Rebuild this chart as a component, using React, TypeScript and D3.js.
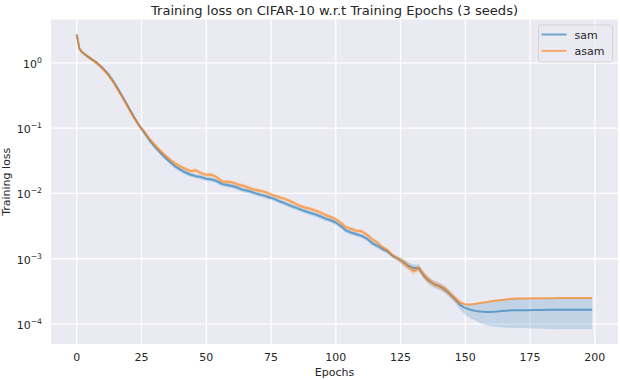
import React, { useRef, useEffect } from "react";
import * as d3 from "d3";

const epochs = [0, 1, ...d3.range(2, 200, 2), 199];

const samMean = [
  2.72, 1.66, 1.46, 1.27, 1.12, 0.98, 0.83, 0.684, 0.531, 0.394,
  0.288, 0.209, 0.151, 0.111, 0.0861, 0.0661, 0.0525, 0.0432, 0.0359, 0.0302,
  0.026, 0.0232, 0.0209, 0.0193, 0.0184, 0.0178, 0.0168, 0.0164, 0.0155, 0.014,
  0.0135, 0.013, 0.0123, 0.0114, 0.011, 0.0104, 0.00977, 0.00933, 0.00881, 0.00832,
  0.00767, 0.00716, 0.00661, 0.00617, 0.00575, 0.00537, 0.00507, 0.00479, 0.00447, 0.00412,
  0.00389, 0.00359, 0.00316, 0.00269, 0.00251, 0.00237, 0.00224, 0.00204, 0.00174, 0.00158,
  0.00141, 0.00129, 0.0011, 0.001, 0.000891, 0.000776, 0.000724, 0.000724, 0.00055, 0.000457,
  0.000407, 0.00038, 0.000339, 0.000288, 0.00024, 0.000195, 0.000176, 0.000166, 0.000158, 0.000155,
  0.000153, 0.000153, 0.000155, 0.000158, 0.00016, 0.000162, 0.000162, 0.000163, 0.000163, 0.000164,
  0.000164, 0.000164, 0.000165, 0.000165, 0.000165, 0.000165, 0.000166, 0.000166, 0.000166, 0.000166,
  0.000166, 0.000166,
];
const samLow = [
  2.7, 1.6, 1.4, 1.2, 1.05, 0.92, 0.77, 0.635, 0.49, 0.363,
  0.265, 0.192, 0.139, 0.102, 0.0792, 0.0608, 0.0483, 0.0397, 0.033, 0.0278,
  0.0239, 0.0213, 0.0192, 0.0178, 0.0169, 0.0164, 0.0155, 0.0151, 0.0143, 0.0129,
  0.0124, 0.012, 0.0113, 0.0105, 0.0101, 0.00957, 0.00899, 0.00858, 0.00811, 0.00765,
  0.00706, 0.00659, 0.00608, 0.00568, 0.00529, 0.00494, 0.00466, 0.00441, 0.00411, 0.00379,
  0.00358, 0.0033, 0.00291, 0.00247, 0.00231, 0.00218, 0.00206, 0.00188, 0.0016, 0.00145,
  0.0013, 0.00119, 0.00101, 0.00092, 0.000784, 0.000683, 0.000637, 0.000637, 0.000484, 0.000402,
  0.000358, 0.000334, 0.000298, 0.000253, 0.000211, 0.000165, 0.000138, 0.000123, 0.000112, 0.000102,
  0.0000955, 0.0000923, 0.0000902, 0.0000891, 0.0000881, 0.0000871, 0.0000871, 0.0000866, 0.0000861, 0.0000856,
  0.0000851, 0.0000846, 0.0000841, 0.0000836, 0.0000832, 0.0000832, 0.0000832, 0.0000832, 0.0000832, 0.0000832,
  0.0000832, 0.0000832,
];
const samHigh = [
  2.74, 1.72, 1.52, 1.34, 1.19, 1.04, 0.89, 0.735, 0.573, 0.425,
  0.311, 0.226, 0.163, 0.12, 0.093, 0.0714, 0.0567, 0.0467, 0.0388, 0.0326,
  0.0281, 0.0251, 0.0226, 0.0208, 0.0199, 0.0192, 0.0181, 0.0177, 0.0167, 0.0151,
  0.0146, 0.014, 0.0133, 0.0123, 0.0119, 0.0112, 0.0106, 0.0101, 0.00951, 0.00899,
  0.00828, 0.00773, 0.00714, 0.00666, 0.00621, 0.0058, 0.00548, 0.00517, 0.00483, 0.00445,
  0.0042, 0.00388, 0.00341, 0.00291, 0.00271, 0.00256, 0.00242, 0.0022, 0.00188, 0.00171,
  0.00152, 0.00139, 0.00119, 0.00108, 0.00101, 0.000877, 0.000818, 0.000818, 0.000622, 0.000516,
  0.00046, 0.000429, 0.000383, 0.000325, 0.000271, 0.000215, 0.000198, 0.000198, 0.000202, 0.000209,
  0.000214, 0.000222, 0.000227, 0.000232, 0.000238, 0.000241, 0.000243, 0.000244, 0.000245, 0.000246,
  0.000247, 0.000247, 0.000248, 0.000248, 0.000248, 0.000248, 0.000249, 0.000249, 0.000249, 0.000249,
  0.000249, 0.000249,
];

const asamMean = [
  2.72, 1.66, 1.46, 1.27, 1.11, 0.973, 0.822, 0.661, 0.513, 0.38,
  0.279, 0.202, 0.146, 0.11, 0.0891, 0.0692, 0.0562, 0.0462, 0.0389, 0.0331,
  0.0288, 0.026, 0.0237, 0.0219, 0.0226, 0.0204, 0.0193, 0.0193, 0.0178, 0.0153,
  0.0151, 0.0148, 0.0138, 0.0132, 0.0124, 0.0116, 0.0112, 0.0107, 0.01, 0.00933,
  0.00881, 0.00832, 0.00776, 0.00708, 0.00646, 0.0061, 0.00582, 0.0055, 0.00513, 0.00468,
  0.00437, 0.00403, 0.00355, 0.00302, 0.00285, 0.00269, 0.00263, 0.00234, 0.002, 0.00178,
  0.00151, 0.00135, 0.00112, 0.001, 0.000891, 0.000759, 0.000646, 0.000724, 0.000562, 0.000468,
  0.000407, 0.00038, 0.000347, 0.000295, 0.000245, 0.000214, 0.0002, 0.0002, 0.000204, 0.000211,
  0.000216, 0.000224, 0.000229, 0.000234, 0.00024, 0.000243, 0.000245, 0.000246, 0.000247, 0.000248,
  0.000248, 0.000249, 0.000249, 0.000249, 0.00025, 0.00025, 0.00025, 0.00025, 0.000251, 0.000251,
  0.000251, 0.000251,
];
const asamLow = [
  2.7, 1.61, 1.41, 1.21, 1.05, 0.915, 0.764, 0.615, 0.477, 0.353,
  0.259, 0.188, 0.136, 0.102, 0.0829, 0.0644, 0.0523, 0.043, 0.0362, 0.0308,
  0.0268, 0.0242, 0.022, 0.0204, 0.021, 0.019, 0.0179, 0.0179, 0.0166, 0.0142,
  0.014, 0.0138, 0.0128, 0.0123, 0.0115, 0.0108, 0.0104, 0.00995, 0.0093, 0.00868,
  0.00819, 0.00774, 0.00722, 0.00658, 0.00601, 0.00567, 0.00541, 0.00512, 0.00477, 0.00435,
  0.00406, 0.00375, 0.0033, 0.00281, 0.00265, 0.0025, 0.00245, 0.00218, 0.00186, 0.00166,
  0.0014, 0.00126, 0.00104, 0.00093, 0.000784, 0.000668, 0.000568, 0.000637, 0.000495, 0.000412,
  0.000358, 0.000334, 0.000305, 0.00026, 0.000216, 0.000197, 0.000194, 0.000194, 0.000198, 0.000205,
  0.00021, 0.000217, 0.000222, 0.000227, 0.000233, 0.000236, 0.000238, 0.000239, 0.00024, 0.000241,
  0.000241, 0.000242, 0.000242, 0.000242, 0.000243, 0.000243, 0.000243, 0.000243, 0.000244, 0.000244,
  0.000244, 0.000244,
];
const asamHigh = [
  2.74, 1.71, 1.51, 1.33, 1.17, 1.03, 0.88, 0.707, 0.549, 0.407,
  0.299, 0.216, 0.156, 0.118, 0.0953, 0.074, 0.0601, 0.0494, 0.0416, 0.0354,
  0.0308, 0.0278, 0.0254, 0.0234, 0.0242, 0.0218, 0.0207, 0.0207, 0.019, 0.0164,
  0.0162, 0.0158, 0.0148, 0.0141, 0.0133, 0.0124, 0.012, 0.0114, 0.0107, 0.00998,
  0.00943, 0.0089, 0.0083, 0.00758, 0.00691, 0.00653, 0.00623, 0.00589, 0.00549, 0.00501,
  0.00468, 0.00431, 0.0038, 0.00323, 0.00305, 0.00288, 0.00281, 0.0025, 0.00214, 0.0019,
  0.00162, 0.00144, 0.0012, 0.00107, 0.00101, 0.000858, 0.00073, 0.000818, 0.000635, 0.000529,
  0.00046, 0.000429, 0.000392, 0.000333, 0.000277, 0.000231, 0.000206, 0.000206, 0.00021, 0.000217,
  0.000222, 0.000231, 0.000236, 0.000241, 0.000247, 0.00025, 0.000252, 0.000253, 0.000254, 0.000255,
  0.000255, 0.000256, 0.000256, 0.000256, 0.000257, 0.000257, 0.000257, 0.000257, 0.000258, 0.000258,
  0.000258, 0.000258,
];

const seriesNames = ["sam", "asam"];
const seriesColors = ["#1f77b4", "#ff7f0e"];
const xTicks = [0, 25, 50, 75, 100, 125, 150, 175, 200];
const yTicks = [1, 1e-1, 1e-2, 1e-3, 1e-4];
const yTickExps = ["0", "\u22121", "\u22122", "\u22123", "\u22124"];

const W = 620;
const H = 380;
const FONT = "'DejaVu Sans', sans-serif";
const TEXT = "#262626";

function LossChart() {
  const svgRef = useRef(null);

  useEffect(() => {
    const svg = d3.select(svgRef.current);
    svg.selectAll("*").remove();

    const left = 51, right = 618, top = 19.5, bottom = 344;

    const n = Math.min(epochs.length, samMean.length, asamMean.length);
    const xMin = d3.min(epochs), xMax = d3.max(epochs.slice(0, n));
    const xPad = (xMax - xMin) * 0.05;
    const x = d3.scaleLinear().domain([xMin - xPad, xMax + xPad]).range([left, right]);

    const all = [samMean, samLow, samHigh, asamMean, asamLow, asamHigh].flat();
    const lo = Math.log10(d3.min(all));
    const hi = Math.log10(d3.max(all));
    const yPad = (hi - lo) * 0.05;
    const y = d3.scaleLog().domain([10 ** (lo - yPad), 10 ** (hi + yPad)]).range([bottom, top]);

    svg.append("defs").append("clipPath").attr("id", "plotClip")
      .append("rect").attr("x", left).attr("y", top)
      .attr("width", right - left).attr("height", bottom - top);

    svg.append("rect").attr("x", left).attr("y", top)
      .attr("width", right - left).attr("height", bottom - top)
      .attr("fill", "#eaeaf2");

    // grid
    const grid = svg.append("g").attr("stroke", "#fff").attr("stroke-width", 1.3);
    grid.selectAll(".gx").data(xTicks).join("line")
      .attr("x1", d => x(d)).attr("x2", d => x(d))
      .attr("y1", top).attr("y2", bottom);
    grid.selectAll(".gy").data(yTicks).join("line")
      .attr("x1", left).attr("x2", right)
      .attr("y1", d => y(d)).attr("y2", d => y(d));

    const series = [
      { name: seriesNames[0], color: seriesColors[0], mean: samMean, low: samLow, high: samHigh },
      { name: seriesNames[1], color: seriesColors[1], mean: asamMean, low: asamLow, high: asamHigh },
    ];

    const idx = d3.range(n);
    const content = svg.append("g").attr("clip-path", "url(#plotClip)");
    series.forEach(s => {
      const lineGen = d3.line<number>().x(i => x(epochs[i])).y(i => y(s.mean[i]));
      const areaGen = d3.area<number>()
        .x(i => x(epochs[i])).y0(i => y(s.low[i])).y1(i => y(s.high[i]));
      content.append("path").attr("d", lineGen(idx))
        .attr("fill", "none").attr("stroke", s.color)
        .attr("stroke-opacity", 0.6).attr("stroke-width", 2)
        .attr("stroke-linejoin", "round");
      content.append("path").attr("d", areaGen(idx))
        .attr("fill", s.color).attr("fill-opacity", 0.2);
    });

    // x ticks
    svg.append("g").selectAll("text").data(xTicks).join("text")
      .attr("x", d => x(d)).attr("y", 361)
      .attr("text-anchor", "middle")
      .attr("font-family", FONT).attr("font-size", 11).attr("fill", TEXT)
      .text(d => d3.format("d")(d));

    // y ticks with superscript exponents
    const yt = svg.append("g").selectAll("text").data(yTicks).join("text")
      .attr("x", 42).attr("y", d => y(d) + 5)
      .attr("text-anchor", "end")
      .attr("font-family", FONT).attr("font-size", 11).attr("fill", TEXT);
    yt.append("tspan").text("10");
    yt.append("tspan").attr("font-size", 7.7).attr("dy", -5)
      .text((d, i) => yTickExps[i]);

    // labels
    svg.append("text").attr("x", (left + right) / 2).attr("y", 376)
      .attr("text-anchor", "middle").attr("font-family", FONT)
      .attr("font-size", 11).attr("fill", TEXT).text("Epochs");
    svg.append("text")
      .attr("transform", `translate(10,${(top + bottom) / 2}) rotate(-90)`)
      .attr("text-anchor", "middle").attr("font-family", FONT)
      .attr("font-size", 11).attr("fill", TEXT).text("Training loss");
    svg.append("text").attr("x", (left + right) / 2).attr("y", 15)
      .attr("text-anchor", "middle").attr("font-family", FONT)
      .attr("font-size", 13.1).attr("fill", TEXT)
      .text("Training loss on CIFAR-10 w.r.t Training Epochs (3 seeds)");

    // legend
    const lw = 74, lh = 37;
    const lx = right - 5.5 - lw, ly = top + 5.5;
    const legend = svg.append("g");
    legend.append("rect").attr("x", lx).attr("y", ly)
      .attr("width", lw).attr("height", lh).attr("rx", 2.5)
      .attr("fill", "#eaeaf2").attr("fill-opacity", 0.8)
      .attr("stroke", "#cccccc").attr("stroke-opacity", 0.8);
    series.forEach((s, i) => {
      const cy = ly + 9.5 + i * 16.4;
      legend.append("line").attr("x1", lx + 3).attr("x2", lx + 28)
        .attr("y1", cy).attr("y2", cy)
        .attr("stroke", s.color).attr("stroke-opacity", 0.6).attr("stroke-width", 2);
      legend.append("text").attr("x", lx + 36).attr("y", cy + 4)
        .attr("font-family", FONT).attr("font-size", 11).attr("fill", TEXT)
        .text(s.name);
    });
  }, []);

  return <svg ref={svgRef} width={W} height={H} style={{ display: "block" }} />;
}

export default function App() {
  useEffect(() => {
    document.body.style.margin = "0";
  }, []);
  return <LossChart />;
}
